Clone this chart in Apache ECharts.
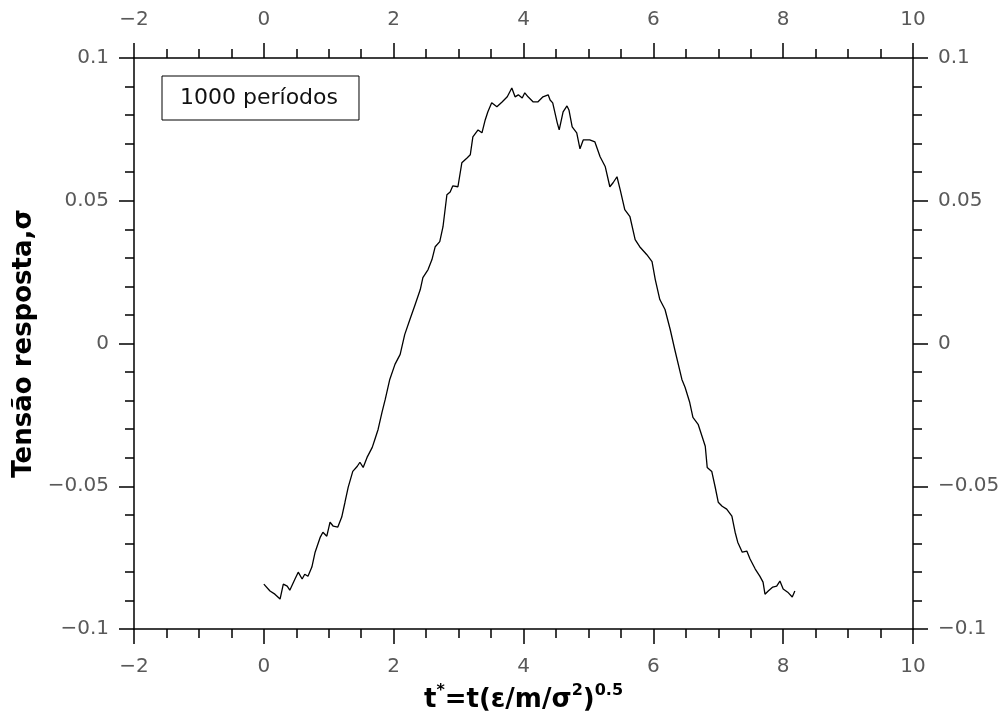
<!DOCTYPE html>
<html>
<head>
<meta charset="utf-8">
<script src="https://cdn.jsdelivr.net/npm/echarts@6/dist/echarts.min.js"></script>
<style>html,body{margin:0;padding:0;background:#fff}#c{width:1008px;height:718px}</style>
</head>
<body>
<div id="c"></div>
<script>
const seriesName = '1000 períodos';
const tValues = [0.00,0.095,0.17,0.25,0.30,0.36,0.40,0.48,0.53,0.59,0.63,0.68,0.74,0.79,0.87,0.91,0.97,1.02,1.07,1.14,1.20,1.25,1.30,1.37,1.44,1.48,1.53,1.59,1.67,1.71,1.76,1.82,1.87,1.94,2.02,2.10,2.17,2.25,2.33,2.41,2.45,2.53,2.59,2.64,2.71,2.76,2.82,2.87,2.91,2.99,3.05,3.13,3.18,3.22,3.30,3.36,3.41,3.45,3.51,3.59,3.67,3.75,3.82,3.87,3.92,3.98,4.02,4.07,4.15,4.22,4.30,4.38,4.41,4.45,4.52,4.55,4.61,4.67,4.70,4.75,4.82,4.87,4.92,5.02,5.10,5.18,5.26,5.33,5.38,5.44,5.49,5.56,5.64,5.72,5.79,5.90,5.98,6.03,6.10,6.18,6.26,6.33,6.44,6.49,6.56,6.61,6.69,6.75,6.80,6.83,6.90,6.95,7.00,7.06,7.13,7.21,7.26,7.30,7.37,7.44,7.49,7.57,7.64,7.69,7.72,7.77,7.84,7.90,7.95,8.00,8.07,8.14,8.18];
const sigmaValues = [-0.0843,-0.0867,-0.0878,-0.0895,-0.0843,-0.0850,-0.0864,-0.0825,-0.0801,-0.0825,-0.0808,-0.0815,-0.0783,-0.0731,-0.0678,-0.0661,-0.0675,-0.0626,-0.0640,-0.0643,-0.0608,-0.0556,-0.0503,-0.0448,-0.0430,-0.0416,-0.0434,-0.0399,-0.0364,-0.0336,-0.0301,-0.0241,-0.0196,-0.0126,-0.0073,-0.0038,0.0031,0.0084,0.0136,0.0189,0.0231,0.0259,0.0294,0.0339,0.0357,0.0409,0.0521,0.0531,0.0552,0.0549,0.0633,0.0650,0.0661,0.0724,0.0748,0.0738,0.0783,0.0811,0.0843,0.0829,0.0846,0.0864,0.0895,0.0864,0.0871,0.0860,0.0878,0.0864,0.0846,0.0846,0.0864,0.0871,0.0853,0.0843,0.0773,0.0748,0.0811,0.0832,0.0818,0.0759,0.0738,0.0682,0.0713,0.0713,0.0706,0.0654,0.0619,0.0549,0.0563,0.0584,0.0538,0.0469,0.0444,0.0364,0.0339,0.0311,0.0287,0.0224,0.0154,0.0119,0.0049,-0.0021,-0.0126,-0.0154,-0.0206,-0.0259,-0.0283,-0.0325,-0.0360,-0.0434,-0.0448,-0.0500,-0.0556,-0.0570,-0.0580,-0.0605,-0.0661,-0.0696,-0.0731,-0.0727,-0.0755,-0.0790,-0.0815,-0.0836,-0.0878,-0.0867,-0.0853,-0.0850,-0.0832,-0.0860,-0.0871,-0.0888,-0.0867];
const xRange = {min: -2, max: 10, interval: 2};
const yRange = {min: -0.1, max: 0.1, interval: 0.05};

const data = tValues.map((t, i) => [t, sigmaValues[i]]);
const fmt = v => String(+(+v).toFixed(3)).replace('-', '\u2212');
const FONT = 'DejaVu Sans';
const lineStyle = {color: '#000', width: 1.5};
function xAxisCfg(pos, extra) {
  return Object.assign({
    type: 'value', position: pos, min: xRange.min, max: xRange.max, interval: xRange.interval,
    axisLine: {show: true, onZero: false, lineStyle: lineStyle},
    axisTick: {show: true, inside: false, length: 15, lineStyle: lineStyle},
    minorTick: {show: true, splitNumber: 4, length: 9, lineStyle: lineStyle},
    splitLine: {show: false},
    axisLabel: {show: true, margin: 28, color: '#595959', fontFamily: FONT, fontSize: 20, formatter: fmt}
  }, extra || {});
}
function yAxisCfg(pos, extra) {
  return Object.assign({
    type: 'value', position: pos, min: yRange.min, max: yRange.max, interval: yRange.interval,
    axisLine: {show: true, onZero: false, lineStyle: lineStyle},
    axisTick: {show: true, inside: false, length: 15, lineStyle: lineStyle},
    minorTick: {show: true, splitNumber: 5, length: 9, lineStyle: lineStyle},
    splitLine: {show: false},
    axisLabel: {show: true, margin: 25, color: '#595959', fontFamily: FONT, fontSize: 20, formatter: fmt}
  }, extra || {});
}
const chart = echarts.init(document.getElementById('c'), null, {renderer: 'canvas'});
chart.setOption({
  backgroundColor: '#fff',
  animation: false,
  grid: {left: 134, right: 95, top: 58, bottom: 88, containLabel: false},
  legend: {
    show: true, left: 162, top: 76,
    data: [{name: seriesName, icon: 'rect'}],
    itemWidth: 0, itemHeight: 0,
    borderColor: '#000', borderWidth: 1, padding: [11, 21, 11, 13],
    textStyle: {color: '#111', fontFamily: FONT, fontSize: 22},
    selectedMode: false
  },
  xAxis: [
    xAxisCfg('bottom', {
      name: '{b|t}{s|*}{b|=t(ε/m/σ}{s|2}{b|)}{s|0.5}',
      nameLocation: 'middle', nameGap: 54,
      nameTextStyle: {
        fontFamily: FONT, color: '#000',
        rich: {
          b: {fontFamily: FONT, fontSize: 26, fontWeight: 'bold', color: '#000', lineHeight: 30, verticalAlign: 'bottom'},
          s: {fontFamily: FONT, fontSize: 16, fontWeight: 'bold', color: '#000', lineHeight: 30, verticalAlign: 'top', padding: [0, 0, 0, 0]}
        }
      }
    }),
    xAxisCfg('top')
  ],
  yAxis: [
    yAxisCfg('left', {
      name: 'Tensão resposta,σ', nameLocation: 'middle', nameGap: 96,
      nameTextStyle: {fontFamily: FONT, fontSize: 26, fontWeight: 'bold', color: '#000'}
    }),
    yAxisCfg('right')
  ],
  series: [{
    name: seriesName, type: 'line', xAxisIndex: 0, yAxisIndex: 0,
    data: data, showSymbol: false, symbol: 'none',
    lineStyle: {color: '#000', width: 1.3}, itemStyle: {color: '#000'}
  }]
});
</script>
</body>
</html>
